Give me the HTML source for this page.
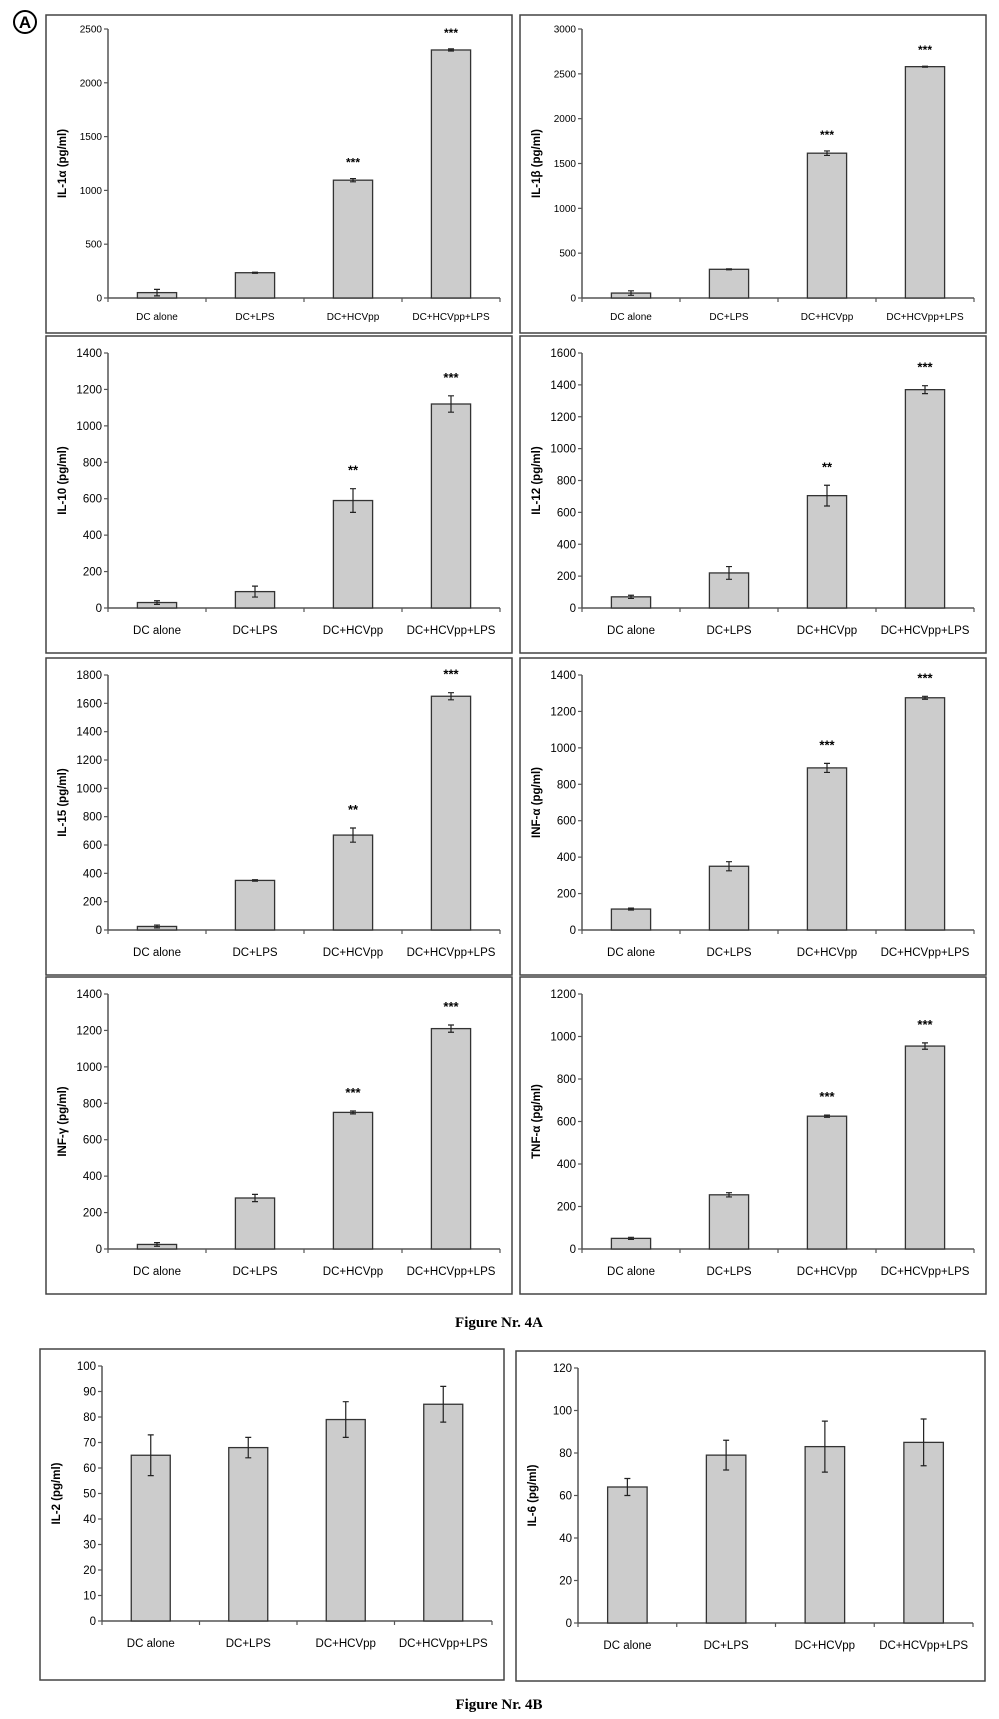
<!DOCTYPE html>
<html><head><meta charset="utf-8">
<style>
html,body{margin:0;padding:0;background:#fff;}
body{width:999px;height:1719px;position:relative;overflow:hidden;font-family:"Liberation Sans",sans-serif;}
svg{position:absolute;left:0;top:0;}
</style></head>
<body>
<svg id="fig" width="999" height="1719" viewBox="0 0 999 1719">
<g>
<circle cx="25" cy="22" r="11" fill="none" stroke="#000" stroke-width="2"/>
<text x="25" y="28" text-anchor="middle" font-size="17" font-weight="bold" font-family="Liberation Sans, sans-serif">A</text>
</g>
<text x="499" y="1327" text-anchor="middle" font-size="15" font-weight="bold" font-family="Liberation Serif, serif">Figure Nr. 4A</text>
<text x="499" y="1709" text-anchor="middle" font-size="15" font-weight="bold" font-family="Liberation Serif, serif">Figure Nr. 4B</text>
</svg>
<script>
const categories = ["DC alone","DC+LPS","DC+HCVpp","DC+HCVpp+LPS"];
const il1aValues = [50,235,1095,2305];
const il1aErrors = [30,5,15,10];
const il1bValues = [55,320,1615,2580];
const il1bErrors = [25,5,25,5];
const il10Values = [30,90,590,1120];
const il10Errors = [10,30,65,45];
const il12Values = [70,220,705,1370];
const il12Errors = [10,40,65,25];
const il15Values = [25,350,670,1650];
const il15Errors = [10,5,50,25];
const infaValues = [115,350,890,1275];
const infaErrors = [5,25,25,8];
const infgValues = [25,280,750,1210];
const infgErrors = [10,20,8,20];
const tnfaValues = [50,255,625,955];
const tnfaErrors = [5,10,5,15];
const il2Values = [65,68,79,85];
const il2Errors = [8,4,7,7];
const il6Values = [64,79,83,85];
const il6Errors = [4,7,12,11];
const starsA = ["","","***","***"];
const starsB = ["","","**","***"];
const starsNone = ["","","",""];
const il1aTicks = [0,500,1000,1500,2000,2500];
const il1bTicks = [0,500,1000,1500,2000,2500,3000];
const il10Ticks = [0,200,400,600,800,1000,1200,1400];
const il12Ticks = [0,200,400,600,800,1000,1200,1400,1600];
const il15Ticks = [0,200,400,600,800,1000,1200,1400,1600,1800];
const infaTicks = [0,200,400,600,800,1000,1200,1400];
const infgTicks = [0,200,400,600,800,1000,1200,1400];
const tnfaTicks = [0,200,400,600,800,1000,1200];
const il2Ticks = [0,10,20,30,40,50,60,70,80,90,100];
const il6Ticks = [0,20,40,60,80,100,120];

const NS="http://www.w3.org/2000/svg";
const svg=document.getElementById('fig');
function mk(tag,attrs,parent){const e=document.createElementNS(NS,tag);for(const k in attrs)e.setAttribute(k,attrs[k]);(parent||svg).appendChild(e);return e;}

function panel(name,box,title,values,errors,stars,ticks,small){
  const [px,py,pw,ph]=box;
  const g=mk('g',{});
  
  
  const frame=mk('rect',{x:px,y:py,width:pw,height:ph,fill:'none',stroke:'#444','stroke-width':1.5},g);
  
  
  const ax=px+62, top=py+(small?14:17), bot=py+(small?283:272), right=px+pw-12;
  const maxV=ticks[ticks.length-1];
  const y=v=>bot-(v/maxV)*(bot-top);
  const catW=(right-ax)/categories.length;
  const xc=i=>ax+catW*(i+0.5);
  const fs=small?10:11.5;
  const yAxis=mk('line',{x1:ax,y1:top,x2:ax,y2:bot,stroke:'#555','stroke-width':1.5},g);
  
  
  const xAxis=mk('line',{x1:ax,y1:bot,x2:right,y2:bot,stroke:'#555','stroke-width':1.5},g);
  
  
  ticks.forEach(t=>{
    mk('line',{x1:ax-4,y1:y(t),x2:ax,y2:y(t),stroke:'#555','stroke-width':1.2},g);
    const tl=mk('text',{x:ax-6,y:y(t)+fs*0.35,'text-anchor':'end','font-size':fs,fill:'#000'},g);
    tl.textContent=t;
    
    
  });
  for(let i=0;i<=categories.length;i++){
    mk('line',{x1:ax+catW*i,y1:bot,x2:ax+catW*i,y2:bot+4,stroke:'#555','stroke-width':1.2},g);
  }
  const yt=mk('text',{x:0,y:0,'text-anchor':'middle','font-size':small?11.5:11.5,'font-weight':'bold',transform:`translate(${px+20},${(top+bot)/2}) rotate(-90)`},g);
  yt.textContent=title;
  
  
  const bw=catW*0.4;
  categories.forEach((c,i)=>{
    const v=values[i], e=errors[i], cx=xc(i);
    const bar=mk('rect',{x:cx-bw/2,y:y(v),width:bw,height:bot-y(v),fill:'#cccccc',stroke:'#333','stroke-width':1.3},g);
    
    
    const eg=mk('path',{d:`M${cx},${y(v+e)}V${y(v-e)}M${cx-3},${y(v+e)}H${cx+3}M${cx-3},${y(v-e)}H${cx+3}`,stroke:'#222','stroke-width':1.2,fill:'none'},g);
    
    
    if(stars[i]){
      const st=mk('text',{x:cx,y:y(v+e)-(small?12:14),'text-anchor':'middle','font-size':small?12:13,'font-weight':'bold'},g);
      st.textContent=stars[i];
      
      
    }
    const cl=mk('text',{x:cx,y:bot+(small?22:26),'text-anchor':'middle','font-size':fs},g);
    cl.textContent=c;
    
    
  });
}
const L=46,R=520,W=466;
panel('il-1a',[L,15,W,318],'IL-1α (pg/ml)',il1aValues,il1aErrors,starsA,il1aTicks,true);
panel('il-1b',[R,15,W,318],'IL-1β (pg/ml)',il1bValues,il1bErrors,starsA,il1bTicks,true);
panel('il-10',[L,336,W,317],'IL-10 (pg/ml)',il10Values,il10Errors,starsB,il10Ticks,false);
panel('il-12',[R,336,W,317],'IL-12 (pg/ml)',il12Values,il12Errors,starsB,il12Ticks,false);
panel('il-15',[L,658,W,317],'IL-15 (pg/ml)',il15Values,il15Errors,starsB,il15Ticks,false);
panel('inf-a',[R,658,W,317],'INF-α (pg/ml)',infaValues,infaErrors,starsA,infaTicks,false);
panel('inf-g',[L,977,W,317],'INF-γ (pg/ml)',infgValues,infgErrors,starsA,infgTicks,false);
panel('tnf-a',[R,977,W,317],'TNF-α (pg/ml)',tnfaValues,tnfaErrors,starsA,tnfaTicks,false);
panel('il-2',[40,1349,464,331],'IL-2 (pg/ml)',il2Values,il2Errors,starsNone,il2Ticks,false);
panel('il-6',[516,1351,469,330],'IL-6 (pg/ml)',il6Values,il6Errors,starsNone,il6Ticks,false);
</script>
</body></html>
